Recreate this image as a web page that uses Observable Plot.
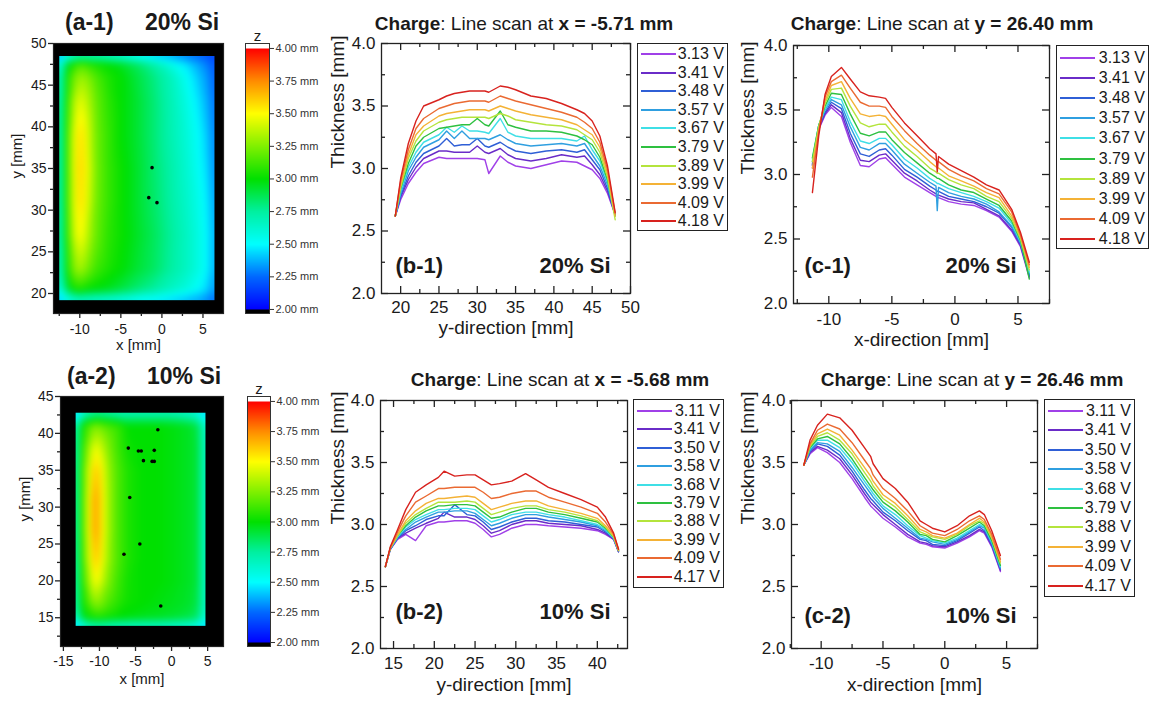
<!DOCTYPE html>
<html><head><meta charset="utf-8">
<script src="https://cdn.jsdelivr.net/npm/d3@7"></script>
<script src="https://cdn.jsdelivr.net/npm/@observablehq/plot@0.6"></script>
<style>
body{margin:0;background:#fff;font-family:Arial,"Liberation Sans",sans-serif;color:#1a1a1a}
#root{position:relative;width:1156px;height:706px;overflow:hidden;background:#fff}
#root svg{overflow:visible}
.title{position:absolute;font-size:19px;line-height:1;white-space:nowrap;transform:translateX(-50%)}
.ptitle{position:absolute;font-size:23px;line-height:1;font-weight:bold;white-space:nowrap}
.legend{position:absolute;border:1.3px solid #222;box-sizing:border-box;background:#fff}
.lrow{position:absolute;left:0;right:3px;height:20px;display:flex;align-items:center;justify-content:space-between;font-size:16px;line-height:20px}
</style></head>
<body><div id="root"></div>
<script>
// ---------- data ----------
const volts1 = ["3.13 V","3.41 V","3.48 V","3.57 V","3.67 V","3.79 V","3.89 V","3.99 V","4.09 V","4.18 V"];
const volts2 = ["3.11 V","3.41 V","3.50 V","3.58 V","3.68 V","3.79 V","3.88 V","3.99 V","4.09 V","4.17 V"];
const lineColors = ["#a040e8","#6a2cc8","#2f5fd6","#2f9fe0","#3fdfe6","#2ec040","#b4e43c","#f4b236","#ea6a32","#d8221e"];

// (b-1) line scan at x = -5.71 mm: thickness per y-position, one entry per voltage
const b1X = [19.3,20,21,22,23,25,26,27,28,29,30,31,31.5,33,34,35,37,39,41,43,44,45,46,47,48];
const b1Cols = [
 [2.62,2.62,2.62,2.62,2.62,2.62,2.62,2.62,2.62,2.62],
 [2.75,2.77,2.78,2.80,2.82,2.84,2.85,2.87,2.90,2.92],
 [2.88,2.91,2.94,2.98,3.01,3.04,3.08,3.11,3.15,3.20],
 [2.97,3.01,3.05,3.09,3.13,3.18,3.22,3.27,3.32,3.38],
 [3.04,3.08,3.12,3.17,3.21,3.25,3.30,3.34,3.40,3.50],
 [3.09,3.14,3.18,3.23,3.27,3.32,3.37,3.42,3.48,3.55],
 [3.08,3.14,3.24,3.30,3.33,3.33,3.39,3.44,3.50,3.58],
 [3.08,3.13,3.18,3.24,3.29,3.34,3.40,3.45,3.52,3.60],
 [3.08,3.13,3.19,3.30,3.34,3.35,3.41,3.46,3.53,3.61],
 [3.08,3.13,3.19,3.24,3.30,3.35,3.41,3.47,3.54,3.62],
 [3.08,3.18,3.24,3.24,3.30,3.40,3.41,3.47,3.54,3.62],
 [3.07,3.13,3.18,3.24,3.29,3.35,3.41,3.47,3.54,3.62],
 [2.96,3.12,3.17,3.23,3.28,3.34,3.40,3.46,3.53,3.61],
 [3.10,3.16,3.21,3.27,3.40,3.46,3.44,3.50,3.58,3.66],
 [3.05,3.11,3.17,3.23,3.29,3.35,3.42,3.48,3.56,3.65],
 [3.02,3.08,3.14,3.20,3.26,3.33,3.39,3.46,3.54,3.63],
 [3.00,3.06,3.12,3.18,3.24,3.30,3.37,3.43,3.51,3.58],
 [3.03,3.08,3.14,3.19,3.24,3.30,3.35,3.41,3.48,3.56],
 [3.06,3.11,3.15,3.20,3.24,3.29,3.34,3.39,3.45,3.52],
 [3.05,3.09,3.13,3.18,3.22,3.26,3.31,3.35,3.41,3.47],
 [3.02,3.10,3.15,3.20,3.26,3.23,3.27,3.31,3.37,3.44],
 [2.99,3.03,3.07,3.11,3.15,3.19,3.23,3.27,3.32,3.38],
 [2.92,2.95,2.99,3.02,3.06,3.09,3.13,3.17,3.21,3.26],
 [2.80,2.82,2.84,2.87,2.89,2.91,2.93,2.96,2.99,3.02],
 [2.63,2.63,2.63,2.63,2.63,2.62,2.59,2.62,2.64,2.65]
];

// (c-1) line scan at y = 26.40 mm
const c1X = [-11.3,-10.8,-10.3,-9.8,-9.0,-8.3,-7.5,-6.8,-6.0,-5.5,-5.0,-4.0,-3.0,-2.0,-1.5,-1.4,-1.3,-0.5,0.5,1.5,2.5,3.5,4.5,5.2,5.9];
const c1Cols = [
 [3.05,3.07,3.08,3.10,3.12,3.13,3.10,3.05,2.98,2.86],
 [3.35,3.36,3.37,3.38,3.38,3.38,3.37,3.35,3.33,3.30],
 [3.46,3.47,3.48,3.50,3.51,3.53,3.55,3.57,3.60,3.62],
 [3.52,3.54,3.56,3.58,3.60,3.63,3.66,3.69,3.72,3.76],
 [3.45,3.48,3.51,3.54,3.58,3.62,3.67,3.72,3.77,3.83],
 [3.25,3.28,3.32,3.37,3.41,3.47,3.53,3.59,3.67,3.74],
 [3.07,3.11,3.16,3.21,3.26,3.32,3.40,3.47,3.56,3.64],
 [3.06,3.10,3.14,3.19,3.24,3.30,3.37,3.45,3.53,3.61],
 [3.12,3.15,3.19,3.24,3.28,3.33,3.39,3.46,3.53,3.60],
 [3.13,3.16,3.20,3.24,3.28,3.33,3.39,3.45,3.52,3.59],
 [3.08,3.11,3.15,3.19,3.23,3.27,3.33,3.39,3.45,3.52],
 [2.98,3.01,3.04,3.08,3.12,3.17,3.22,3.27,3.34,3.40],
 [2.92,2.95,2.98,3.01,3.05,3.09,3.14,3.19,3.24,3.30],
 [2.86,2.88,2.91,2.94,2.97,3.01,3.05,3.10,3.15,3.20],
 [2.83,2.85,2.88,2.91,2.94,2.98,3.02,3.06,3.11,3.16],
 [2.82,2.84,2.87,2.72,2.93,2.97,3.01,3.05,3.10,3.02],
 [2.82,2.84,2.87,2.90,2.93,2.97,3.01,3.05,3.10,3.14],
 [2.79,2.81,2.83,2.86,2.89,2.92,2.96,2.99,3.04,3.08],
 [2.77,2.79,2.81,2.83,2.86,2.88,2.92,2.95,2.99,3.03],
 [2.76,2.78,2.79,2.81,2.83,2.86,2.89,2.91,2.95,2.98],
 [2.72,2.73,2.75,2.77,2.79,2.81,2.83,2.86,2.89,2.92],
 [2.67,2.68,2.70,2.71,2.74,2.76,2.79,2.82,2.85,2.88],
 [2.56,2.57,2.59,2.60,2.62,2.64,2.66,2.68,2.71,2.73],
 [2.44,2.45,2.46,2.47,2.48,2.49,2.50,2.52,2.53,2.55],
 [2.20,2.21,2.22,2.23,2.24,2.19,2.26,2.28,2.30,2.32]
];

// (b-2) line scan at x = -5.68 mm
const b2X = [14.0,14.6,15.5,16.5,17.7,19,20.5,21.2,22.5,24,25,26,27,28,29.5,31.2,32.5,34,36,38,40,41,42,42.6];
const b2Cols = [
 [2.66,2.66,2.66,2.66,2.66,2.66,2.66,2.66,2.66,2.66],
 [2.80,2.80,2.80,2.80,2.81,2.81,2.81,2.81,2.81,2.82],
 [2.88,2.89,2.89,2.90,2.90,2.91,2.91,2.92,2.94,2.96],
 [2.92,2.93,2.95,2.96,2.98,2.99,3.01,3.03,3.07,3.12],
 [2.87,2.97,2.99,3.02,3.04,3.06,3.08,3.11,3.18,3.26],
 [2.99,3.01,3.04,3.06,3.08,3.11,3.13,3.17,3.23,3.32],
 [3.02,3.05,3.07,3.10,3.12,3.15,3.18,3.21,3.29,3.38],
 [3.02,3.10,3.07,3.10,3.12,3.15,3.18,3.21,3.29,3.43],
 [3.03,3.06,3.16,3.11,3.13,3.16,3.18,3.22,3.30,3.39],
 [3.03,3.06,3.08,3.11,3.13,3.16,3.19,3.23,3.30,3.40],
 [3.01,3.04,3.07,3.09,3.12,3.15,3.18,3.22,3.30,3.40],
 [2.96,2.99,3.02,3.04,3.07,3.10,3.13,3.17,3.26,3.36],
 [2.90,2.93,2.96,2.99,3.02,3.05,3.08,3.12,3.21,3.32],
 [2.92,2.95,2.98,3.01,3.04,3.06,3.10,3.14,3.22,3.33],
 [2.97,3.00,3.02,3.05,3.08,3.10,3.13,3.17,3.25,3.35],
 [3.00,3.03,3.05,3.08,3.10,3.13,3.15,3.19,3.27,3.41],
 [3.00,3.03,3.05,3.08,3.10,3.13,3.15,3.19,3.27,3.36],
 [2.99,3.01,3.03,3.06,3.08,3.10,3.12,3.15,3.22,3.30],
 [2.98,3.00,3.02,3.04,3.06,3.08,3.10,3.12,3.18,3.25],
 [2.97,2.99,3.00,3.02,3.03,3.05,3.07,3.09,3.14,3.20],
 [2.95,2.96,2.98,2.99,3.00,3.02,3.03,3.05,3.09,3.14],
 [2.92,2.93,2.94,2.95,2.96,2.97,2.98,2.99,3.02,3.06],
 [2.88,2.88,2.89,2.89,2.89,2.90,2.90,2.91,2.92,2.93],
 [2.78,2.78,2.78,2.79,2.79,2.79,2.79,2.79,2.80,2.80]
];

// (c-2) line scan at y = 26.46 mm
const c2X = [-11.4,-10.9,-10.3,-9.5,-8.5,-7.5,-6.5,-6.0,-5.8,-5.0,-4.0,-3.0,-2.0,-1.5,-1.0,0,1.0,2.0,2.8,3.2,3.8,4.5];
const c2Cols = [
 [3.48,3.48,3.48,3.48,3.48,3.48,3.48,3.48,3.48,3.48],
 [3.57,3.58,3.59,3.60,3.61,3.62,3.63,3.64,3.65,3.68],
 [3.62,3.63,3.65,3.66,3.68,3.69,3.71,3.73,3.76,3.80],
 [3.58,3.60,3.63,3.65,3.68,3.71,3.74,3.77,3.81,3.89],
 [3.50,3.53,3.56,3.59,3.62,3.65,3.68,3.72,3.77,3.86],
 [3.37,3.40,3.43,3.46,3.50,3.53,3.57,3.60,3.66,3.76],
 [3.22,3.25,3.28,3.32,3.35,3.38,3.42,3.46,3.52,3.62],
 [3.15,3.18,3.21,3.25,3.28,3.31,3.35,3.39,3.45,3.55],
 [3.13,3.16,3.19,3.22,3.25,3.28,3.31,3.35,3.40,3.49],
 [3.05,3.08,3.10,3.13,3.15,3.18,3.21,3.24,3.29,3.37],
 [2.98,3.00,3.03,3.05,3.08,3.11,3.14,3.17,3.21,3.29],
 [2.90,2.92,2.95,2.97,2.99,3.02,3.04,3.07,3.11,3.18],
 [2.85,2.86,2.88,2.89,2.91,2.92,2.94,2.96,2.99,3.03],
 [2.84,2.85,2.87,2.88,2.89,2.91,2.92,2.94,2.96,3.00],
 [2.82,2.83,2.84,2.86,2.87,2.88,2.90,2.91,2.93,2.97],
 [2.81,2.82,2.83,2.84,2.85,2.86,2.88,2.89,2.91,2.94],
 [2.85,2.86,2.87,2.88,2.89,2.91,2.92,2.93,2.96,2.99],
 [2.90,2.91,2.93,2.94,2.95,2.97,2.99,3.00,3.03,3.07],
 [2.95,2.96,2.98,2.99,3.00,3.02,3.03,3.05,3.07,3.11],
 [2.93,2.94,2.95,2.97,2.98,2.99,3.01,3.02,3.04,3.08],
 [2.82,2.83,2.84,2.85,2.86,2.87,2.89,2.90,2.92,2.95],
 [2.62,2.63,2.64,2.65,2.66,2.67,2.69,2.70,2.72,2.75]
];

// (a-1) thickness map, 20% Si (rows: y, columns: x)
const a1X = [-12.5,-11.5,-10.5,-9.8,-9.0,-8.0,-6.5,-5.0,-3.0,-1.0,1.0,3.0,4.5,5.6,6.4];
const a1Y = [19.2,20.5,23,27,31,35,39,43,46,47.5,48.5];
const a1Z = [
 [2.40,2.55,2.60,2.62,2.62,2.60,2.58,2.55,2.50,2.47,2.43,2.38,2.35,2.30,2.25],
 [2.55,2.90,3.05,3.05,3.00,2.98,2.95,2.90,2.82,2.75,2.66,2.58,2.50,2.42,2.32],
 [2.60,3.05,3.30,3.32,3.22,3.12,3.05,3.00,2.92,2.85,2.75,2.66,2.57,2.48,2.35],
 [2.62,3.12,3.45,3.50,3.35,3.20,3.08,3.02,2.94,2.86,2.76,2.66,2.57,2.48,2.35],
 [2.62,3.15,3.50,3.58,3.42,3.22,3.10,3.02,2.93,2.84,2.74,2.64,2.55,2.46,2.33],
 [2.62,3.15,3.52,3.60,3.45,3.23,3.10,3.02,2.93,2.83,2.73,2.62,2.52,2.43,2.30],
 [2.62,3.15,3.50,3.58,3.42,3.22,3.10,3.00,2.92,2.82,2.71,2.60,2.50,2.40,2.28],
 [2.62,3.10,3.40,3.45,3.35,3.20,3.08,3.00,2.92,2.82,2.70,2.57,2.45,2.36,2.25],
 [2.60,3.05,3.25,3.30,3.25,3.15,3.05,3.00,2.90,2.80,2.68,2.52,2.40,2.32,2.22],
 [2.55,2.95,3.10,3.15,3.10,3.05,3.00,2.95,2.85,2.73,2.58,2.45,2.35,2.28,2.20],
 [2.35,2.55,2.62,2.65,2.65,2.65,2.62,2.58,2.50,2.42,2.35,2.28,2.24,2.20,2.15]
];
const a1DotX = [-1.2,-1.6,-0.6];
const a1DotY = [35.1,31.5,30.9];

// (a-2) thickness map, 10% Si
const a2X = [-13.3,-12.5,-11.5,-10.6,-9.8,-8.8,-7.5,-6.0,-4.0,-2.0,0,2.0,3.5,4.7];
const a2Y = [13.9,15,17,20,23,27,31,35,38,41,42.8];
const a2Z = [
 [2.40,2.55,2.62,2.65,2.65,2.64,2.62,2.62,2.62,2.62,2.60,2.58,2.55,2.40],
 [2.60,2.90,3.02,3.05,3.05,3.02,3.00,2.98,2.96,2.95,2.93,2.90,2.85,2.58],
 [2.65,3.00,3.15,3.28,3.24,3.15,3.08,3.02,3.00,2.98,2.96,2.94,2.90,2.62],
 [2.65,3.05,3.30,3.50,3.42,3.25,3.12,3.03,3.00,3.00,2.98,2.95,2.92,2.62],
 [2.65,3.08,3.40,3.64,3.52,3.30,3.15,3.05,3.00,3.00,2.98,2.95,2.92,2.62],
 [2.65,3.10,3.45,3.74,3.56,3.32,3.15,3.05,3.00,3.00,2.98,2.95,2.92,2.62],
 [2.65,3.10,3.45,3.74,3.56,3.32,3.15,3.05,3.00,3.00,2.98,2.95,2.92,2.62],
 [2.65,3.10,3.40,3.64,3.52,3.30,3.15,3.05,3.00,3.00,2.98,2.95,2.92,2.62],
 [2.65,3.05,3.30,3.48,3.40,3.25,3.12,3.02,3.00,3.00,2.98,2.95,2.92,2.62],
 [2.62,3.00,3.15,3.25,3.20,3.15,3.10,3.00,3.00,3.00,2.98,2.95,2.90,2.60],
 [2.40,2.60,2.68,2.72,2.72,2.70,2.68,2.68,2.68,2.68,2.68,2.64,2.60,2.40]
];
const a2DotX = [-1.9,-6.0,-4.6,-4.2,-2.4,-3.9,-2.7,-2.4,-5.8,-6.6,-4.4,-1.5];
const a2DotY = [40.5,38.0,37.6,37.6,37.7,36.3,36.2,36.2,31.3,23.6,25.0,16.6];

// colour map of the thickness maps (z in mm)
const zStops  = [1.9,1.999,2.0,2.25,2.5,2.75,3.0,3.25,3.5,3.75,4.0,4.001,4.1];
const zColors = ["#000","#000","#0000ff","#0068ff","#00ffff","#00f0a0","#00e000","#80f000","#ffff00","#ff8c00","#ff0000","#fff","#fff"];
const zTicks  = [2.0,2.25,2.5,2.75,3.0,3.25,3.5,3.75,4.0];

// ---------- helpers ----------
const root = document.getElementById("root");
const FONT = 'Arial, "Liberation Sans", sans-serif';
function place(el, left, top) {
  el.style.position = "absolute"; el.style.left = left + "px"; el.style.top = top + "px";
  root.appendChild(el);
}
// short tick marks drawn as inset rules along the frame edges
function tickMarks({xMajor, xMinor, yMajor, yMinor, inward, sides, W, H, major = 7, minor = 4}) {
  const st = {stroke: "#222", strokeWidth: 1.3};
  const m = [];
  for (const [vals, len] of [[xMajor, major], [xMinor, minor]]) {
    if (sides.includes("bottom")) m.push(Plot.ruleX(vals, {...st, insetTop: H - len, dy: inward ? 0 : len}));
    if (sides.includes("top")) m.push(Plot.ruleX(vals, {...st, insetBottom: H - len}));
  }
  for (const [vals, len] of [[yMajor, major], [yMinor, minor]]) {
    if (sides.includes("left")) m.push(Plot.ruleY(vals, {...st, insetRight: W - len, dx: inward ? 0 : -len}));
    if (sides.includes("right")) m.push(Plot.ruleY(vals, {...st, insetLeft: W - len}));
  }
  return m;
}
const zScale = {type: "linear", domain: zStops, range: zColors, clamp: true, interpolate: "rgb"};

function linePanel(p) {
  const data = [];
  p.volts.forEach((v, k) => p.xs.forEach((x, i) => data.push({x, t: p.cols[i][k], v})));
  const W = p.width - p.ml - p.mr, H = p.height - p.mt - p.mb;
  const svg = Plot.plot({
    width: p.width, height: p.height,
    marginLeft: p.ml, marginRight: p.mr, marginTop: p.mt, marginBottom: p.mb,
    style: {fontFamily: FONT, fontSize: "17px", color: "#1a1a1a", background: "transparent", overflow: "visible"},
    x: {domain: p.xDomain},
    y: {domain: [2, 4]},
    color: {domain: p.volts, range: lineColors},
    marks: [
      Plot.line(data, {x: "x", y: "t", stroke: "v", strokeWidth: 1.4}),
      Plot.frame({stroke: "#222", strokeWidth: 1.3}),
      ...tickMarks({xMajor: p.xMajor, xMinor: p.xMinor, yMajor: [2, 2.5, 3, 3.5, 4], yMinor: [2.25, 2.75, 3.25, 3.75], inward: true, sides: ["bottom", "top", "left", "right"], W, H}),
      Plot.axisX({ticks: p.xMajor, tickSize: 0, tickPadding: p.xpad, label: null, tickFormat: d => String(d)}),
      Plot.axisY({ticks: [2, 2.5, 3, 3.5, 4], tickSize: 0, tickPadding: 6, label: null, tickFormat: d => d.toFixed(1)}),
      Plot.text([p.xLabel], {frameAnchor: "bottom", dy: p.xlab, fontSize: 19}),
      Plot.text(["Thickness [mm]"], {frameAnchor: "left", dx: p.ylab, rotate: -90, fontSize: 19}),
      Plot.text([p.tag], {frameAnchor: "bottom-left", dx: p.tagDx, dy: p.tagDy, textAnchor: "start", fontWeight: "bold", fontSize: 22}),
      Plot.text([p.si], {frameAnchor: "bottom-right", dx: p.siDx, dy: p.tagDy, textAnchor: "end", fontWeight: "bold", fontSize: 22})
    ]
  });
  place(svg, p.left, p.top);
}

function heatPanel(p) {
  const data = [];
  p.ys.forEach((y, j) => p.xs.forEach((x, i) => data.push({x, y, z: p.z[j][i]})));
  const dots = p.dotX.map((x, i) => ({x, y: p.dotY[i]}));
  const W = p.width - p.ml - p.mr, H = p.height - p.mt - p.mb;
  const svg = Plot.plot({
    width: p.width, height: p.height,
    marginLeft: p.ml, marginRight: p.mr, marginTop: p.mt, marginBottom: p.mb,
    style: {fontFamily: FONT, fontSize: "14px", color: "#1a1a1a", background: "transparent", overflow: "visible"},
    x: {domain: p.xDomain},
    y: {domain: p.yDomain},
    color: zScale,
    marks: [
      Plot.frame({fill: "black"}),
      Plot.raster(data, {x: "x", y: "y", fill: "z", interpolate: "barycentric", blur: 3,
        x1: d3.min(p.xs), x2: d3.max(p.xs), y1: d3.min(p.ys), y2: d3.max(p.ys)}),
      Plot.dot(dots, {x: "x", y: "y", r: 1.8, fill: "black"}),
      Plot.frame({stroke: "#222", strokeWidth: 1.2}),
      ...tickMarks({xMajor: p.xMajor, xMinor: p.xMinor, yMajor: p.yMajor, yMinor: p.yMinor, inward: false, sides: ["bottom", "left"], W, H, major: 5, minor: 3}),
      Plot.axisX({ticks: p.xMajor, tickSize: 0, tickPadding: p.xpad, label: null, tickFormat: d => String(d)}),
      Plot.axisY({ticks: p.yMajor, tickSize: 0, tickPadding: 7, label: null, tickFormat: d => String(d)}),
      Plot.text(["x [mm]"], {frameAnchor: "bottom", dy: p.xlab, fontSize: 15}),
      Plot.text(["y [mm]"], {frameAnchor: "left", dx: p.ylab, rotate: -90, fontSize: 15})
    ]
  });
  place(svg, p.left, p.top);
}

function colorBar(p) {
  const svg = Plot.plot({
    width: p.width, height: p.height,
    marginLeft: p.ml, marginRight: p.mr, marginTop: p.mt, marginBottom: p.mb,
    style: {fontFamily: FONT, fontSize: "11px", color: "#333", background: "transparent", overflow: "visible"},
    x: {domain: [0, 1], axis: null},
    y: {domain: p.yDomain},
    color: zScale,
    marks: [
      Plot.raster({fill: (x, y) => y, x1: 0, x2: 1, y1: p.yDomain[0], y2: p.yDomain[1]}),
      Plot.frame({stroke: "#333", strokeWidth: 1}),
      Plot.axisY({anchor: "right", ticks: zTicks, tickSize: 4, tickPadding: 2, label: null, tickFormat: d => d.toFixed(2) + " mm"}),
      Plot.text(["z"], {frameAnchor: "top", dy: -13, fontSize: 15, fill: "#1a1a1a"})
    ]
  });
  place(svg, p.left, p.top);
}

function legend(volts, left, top, w, h, row0, gap) {
  const box = document.createElement("div");
  box.className = "legend";
  Object.assign(box.style, {left: left + "px", top: top + "px", width: w + "px", height: h + "px"});
  volts.forEach((v, k) => {
    const row = document.createElement("div");
    row.className = "lrow";
    row.style.top = (row0 - top + k * gap - 10) + "px";
    row.innerHTML = `<svg width="38" height="20"><line x1="3" x2="38" y1="10" y2="10" stroke="${lineColors[k]}" stroke-width="1.8"/></svg><span>${v}</span>`;
    box.appendChild(row);
  });
  root.appendChild(box);
}
function html(cls, left, top, inner) {
  const d = document.createElement("div");
  d.className = cls; d.innerHTML = inner;
  d.style.left = left + "px"; d.style.top = top + "px";
  root.appendChild(d);
}

// ---------- panels ----------
heatPanel({xs: a1X, ys: a1Y, z: a1Z, dotX: a1DotX, dotY: a1DotY,
  left: 0, top: 30, width: 240, height: 330, ml: 53, mr: 17, mt: 13, mb: 47,
  xDomain: [-13.2, 7.5], yDomain: [17.6, 50],
  xMajor: [-10, -5, 0, 5], xMinor: [-12.5, -7.5, -2.5, 2.5],
  yMajor: [20, 25, 30, 35, 40, 45, 50], yMinor: [22.5, 27.5, 32.5, 37.5, 42.5, 47.5],
  xpad: 11, xlab: 36, ylab: -36});
colorBar({left: 235, top: 15, width: 85, height: 310, ml: 10, mr: 51, mt: 28, mb: 12, yDomain: [1.969, 4.038]});

heatPanel({xs: a2X, ys: a2Y, z: a2Z, dotX: a2DotX, dotY: a2DotY,
  left: 0, top: 385, width: 240, height: 321, ml: 60, mr: 17, mt: 11, mb: 60,
  xDomain: [-15.4, 7.2], yDomain: [11.1, 45],
  xMajor: [-15, -10, -5, 0, 5], xMinor: [-12.5, -7.5, -2.5, 2.5],
  yMajor: [15, 20, 25, 30, 35, 40, 45], yMinor: [12.5, 17.5, 22.5, 27.5, 32.5, 37.5, 42.5],
  xpad: 10, xlab: 37, ylab: -35});
colorBar({left: 237, top: 370, width: 85, height: 300, ml: 10, mr: 52, mt: 26, mb: 24, yDomain: [1.967, 4.041]});

linePanel({xs: b1X, cols: b1Cols, volts: volts1, left: 320, top: 35, width: 312, height: 320,
  ml: 61, mr: 2, mt: 8, mb: 62, xDomain: [17.5, 50],
  xMajor: [20, 25, 30, 35, 40, 45, 50], xMinor: [22.5, 27.5, 32.5, 37.5, 42.5, 47.5],
  xLabel: "y-direction [mm]", xpad: 7, xlab: 40, ylab: -44,
  tag: "(b-1)", si: "20% Si", tagDx: 14, tagDy: -21, siDx: -20});
linePanel({xs: c1X, cols: c1Cols, volts: volts1, left: 735, top: 35, width: 318, height: 320,
  ml: 58, mr: 4, mt: 10, mb: 52, xDomain: [-12.8, 7.5],
  xMajor: [-10, -5, 0, 5], xMinor: [-12.5, -7.5, -2.5, 2.5, 7.5],
  xLabel: "x-direction [mm]", xpad: 9, xlab: 42, ylab: -46,
  tag: "(c-1)", si: "20% Si", tagDx: 11, tagDy: -31, siDx: -33});
linePanel({xs: b2X, cols: b2Cols, volts: volts2, left: 320, top: 390, width: 310, height: 316,
  ml: 60, mr: 3, mt: 10, mb: 58, xDomain: [13.4, 43.7],
  xMajor: [15, 20, 25, 30, 35, 40], xMinor: [17.5, 22.5, 27.5, 32.5, 37.5, 42.5],
  xLabel: "y-direction [mm]", xpad: 8, xlab: 42, ylab: -43,
  tag: "(b-2)", si: "10% Si", tagDx: 15, tagDy: -30, siDx: -17});
linePanel({xs: c2X, cols: c2Cols, volts: volts2, left: 735, top: 390, width: 306, height: 316,
  ml: 56, mr: 4, mt: 10, mb: 58, xDomain: [-12.4, 7.5],
  xMajor: [-10, -5, 0, 5], xMinor: [-12.5, -7.5, -2.5, 2.5, 7.5],
  xLabel: "x-direction [mm]", xpad: 8, xlab: 42, ylab: -44,
  tag: "(c-2)", si: "10% Si", tagDx: 13, tagDy: -26, siDx: -21});

legend(volts1, 637, 43, 91, 188, 53, 18.6);
legend(volts1, 1056, 45, 93, 204, 57, 20.1);
legend(volts2, 633, 399, 91, 189, 410, 18.4);
legend(volts2, 1044, 399, 91, 198, 410, 19.4);

// ---------- titles ----------
html("ptitle", 65, 11, "(a-1)");
html("ptitle", 145, 11, "20% Si");
html("ptitle", 67, 365, "(a-2)");
html("ptitle", 147, 365, "10% Si");
html("title", 524, 14, "<b>Charge</b>: Line scan at <b>x = -5.71 mm</b>");
html("title", 942, 14, "<b>Charge</b>: Line scan at <b>y = 26.40 mm</b>");
html("title", 560, 370, "<b>Charge</b>: Line scan at <b>x = -5.68 mm</b>");
html("title", 972, 370, "<b>Charge</b>: Line scan at <b>y = 26.46 mm</b>");
</script>
</body></html>
